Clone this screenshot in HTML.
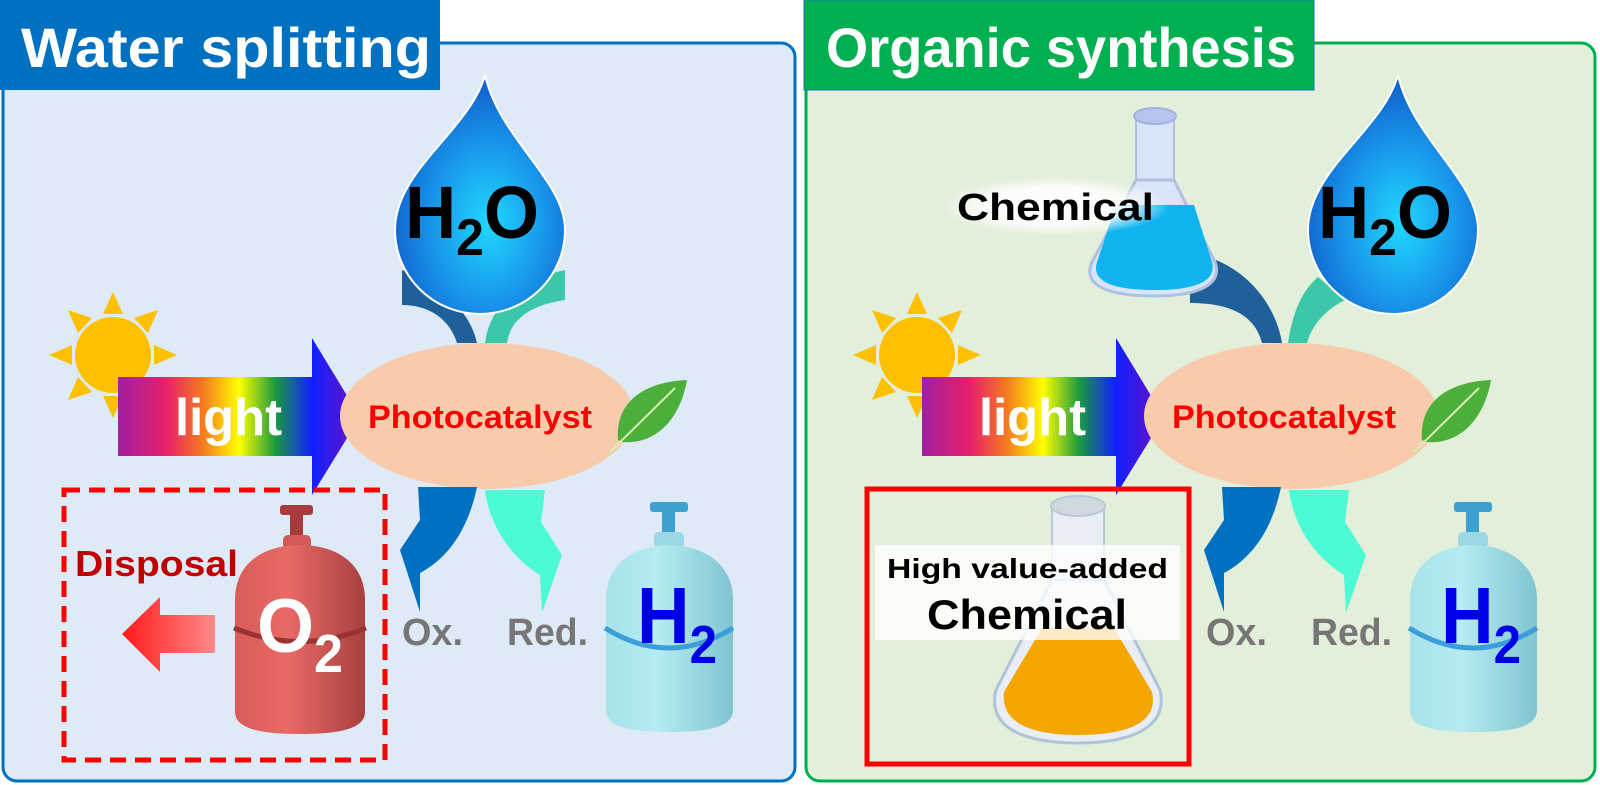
<!DOCTYPE html>
<html><head><meta charset="utf-8"><style>html,body{margin:0;padding:0;background:#fff}svg{display:block}</style></head>
<body>
<svg width="1600" height="785" viewBox="0 0 1600 785" xmlns="http://www.w3.org/2000/svg" font-family="Liberation Sans, sans-serif" font-weight="bold">
<defs>
<linearGradient id="rb" x1="0" x2="1" y1="0" y2="0">
<stop offset="0" stop-color="#a020a0"/><stop offset="0.2" stop-color="#e8206a"/><stop offset="0.35" stop-color="#f57a20"/><stop offset="0.5" stop-color="#ffff00"/><stop offset="0.65" stop-color="#1a9a40"/><stop offset="0.8" stop-color="#1020ff"/><stop offset="1" stop-color="#7010c0"/>
</linearGradient>
<radialGradient id="dr" cx="0.55" cy="0.62" r="0.6"><stop offset="0" stop-color="#20d8ff"/><stop offset="0.6" stop-color="#1890e8"/><stop offset="1" stop-color="#1060c8"/></radialGradient>
<linearGradient id="rc" x1="0" x2="1"><stop offset="0" stop-color="#d85c5a"/><stop offset="0.4" stop-color="#e86a66"/><stop offset="1" stop-color="#a84040"/></linearGradient>
<linearGradient id="bc" x1="0" x2="1"><stop offset="0" stop-color="#a8e2ea"/><stop offset="0.4" stop-color="#b6ecf2"/><stop offset="1" stop-color="#80c4d0"/></linearGradient>
<linearGradient id="la" x1="0" x2="1"><stop offset="0" stop-color="#ff1a1a"/><stop offset="1" stop-color="#ff8a8a"/></linearGradient>
<radialGradient id="glow" cx="0.5" cy="0.5" r="0.5"><stop offset="0.6" stop-color="#fff" stop-opacity="0.9"/><stop offset="1" stop-color="#fff" stop-opacity="0"/></radialGradient>
<g id="drop">
  <path d="M485,75 C470,130 395,170 395,230 A85 84 0 0 0 565,230 C565,180 500,140 485,75 Z" fill="url(#dr)" stroke="#fff" stroke-width="2"/>
  <text x="405" y="238" font-size="74" fill="#000" textLength="134" lengthAdjust="spacingAndGlyphs">H<tspan font-size="52" dy="17">2</tspan><tspan dy="-17">O</tspan></text>
</g>
<g id="common">
  <g fill="#ffc000">
    <polygon points="113,292 103,314 123,314"/>
    <polygon points="49,355 72,345 72,365"/>
    <polygon points="177,355 154,345 154,365"/>
    <polygon points="68,310 92,318 78,333"/>
    <polygon points="158,310 134,318 148,333"/>
    <polygon points="68,400 92,392 78,377"/>
    <polygon points="158,400 134,392 148,377"/>
    <polygon points="113,418 103,396 123,396"/>
    <circle cx="113" cy="355" r="38"/>
  </g>
  <path d="M118,377 L312,377 L312,338 L360,417 L312,495 L312,456 L118,456 Z" fill="url(#rb)"/>
  <text x="175" y="435" font-size="52" fill="#fff" textLength="107" lengthAdjust="spacingAndGlyphs">light</text>
  <ellipse cx="487" cy="416" rx="147" ry="73" fill="#f8cbad"/>
  <text x="368" y="428" font-size="32" fill="#ff0000" textLength="224" lengthAdjust="spacingAndGlyphs">Photocatalyst</text>
  <path d="M618,440 C615,405 640,382 687,380 C680,420 655,445 622,442 Z" fill="#4caf3a"/>
  <path d="M610,452 L675,388" stroke="#d8f0b0" stroke-width="2"/>
  <path d="M418,487 L477,487 C468,530 448,558 420,573 L420,612 L400,550 L420,520 Z" fill="#0070c0"/>
  <path d="M485,490 L545,490 L541,522 L562,555 L542,613 L540,575 C515,560 490,530 485,490 Z" fill="#4dfad6"/>
  <text x="402" y="645" font-size="38" fill="#767676" textLength="61" lengthAdjust="spacingAndGlyphs">Ox.</text>
  <text x="507" y="645" font-size="38" fill="#767676" textLength="81" lengthAdjust="spacingAndGlyphs">Red.</text>
  <rect x="650" y="502" width="38" height="10" rx="3" fill="#3ca0d0"/>
  <rect x="662" y="510" width="13" height="24" fill="#3ca0d0"/>
  <rect x="654" y="532" width="30" height="16" rx="5" fill="#9cd8e4"/>
  <path d="M606,600 C606,560 640,545 669,545 C698,545 733,560 733,600 L733,710 C733,728 705,732 669,732 C633,732 606,728 606,710 Z" fill="url(#bc)"/>
  <path d="M605,628 Q669,668 733,628" stroke="#3c9ed8" stroke-width="5" fill="none"/>
  <text x="637" y="643" font-size="80" fill="#0000e8" textLength="80" lengthAdjust="spacingAndGlyphs">H<tspan font-size="54" dy="20">2</tspan></text>
</g>
</defs>

<rect x="3" y="43" width="792" height="738" rx="14" fill="#deebf7" stroke="#0070c0" stroke-width="3"/>
<rect x="0" y="0" width="440" height="90" fill="#0070c0"/>
<text x="21" y="67" font-size="56" fill="#fff" textLength="410" lengthAdjust="spacingAndGlyphs">Water splitting</text>
<path d="M402,270 C440,285 470,310 477,343 L457,343 C450,320 430,305 402,305 Z" fill="#1f5f9a"/>
<path d="M565,270 L565,300 C530,305 510,320 507,343 L485,343 C490,305 520,280 565,270 Z" fill="#3cc8a8"/>
<use href="#drop"/>
<use href="#common"/>
<rect x="64" y="490" width="321" height="270" fill="none" stroke="#ff0000" stroke-width="5" stroke-dasharray="16,9"/>
<text x="75" y="576" font-size="36" fill="#c00000" textLength="163" lengthAdjust="spacingAndGlyphs">Disposal</text>
<polygon points="122,634 160,597 160,615 215,615 215,653 160,653 160,672" fill="url(#la)"/>
<rect x="280" y="505" width="33" height="10" rx="3" fill="#a83c3c"/>
<rect x="290" y="513" width="13" height="24" fill="#a83c3c"/>
<rect x="283" y="535" width="28" height="15" rx="5" fill="#d45a58"/>
<path d="M235,600 C235,562 265,545 300,545 C335,545 365,562 365,600 L365,712 C365,730 335,734 300,734 C265,734 235,730 235,712 Z" fill="url(#rc)"/>
<path d="M234,628 Q300,655 366,628" stroke="#9a3232" stroke-width="5" fill="none"/>
<text x="257" y="652" font-size="76" fill="#fff" textLength="86" lengthAdjust="spacingAndGlyphs">O<tspan font-size="54" dy="20">2</tspan></text>

<rect x="806" y="43" width="789" height="738" rx="14" fill="#e2efda" stroke="#00b050" stroke-width="3"/>
<rect x="804" y="0" width="510" height="90" fill="#00b050" stroke="#2070c0" stroke-width="1"/>
<text x="826" y="67" font-size="56" fill="#fff" textLength="470" lengthAdjust="spacingAndGlyphs">Organic synthesis</text>
<path d="M1190,253 C1240,260 1275,300 1282,343 L1262,343 C1255,315 1230,303 1190,303 Z" fill="#1f5f9a"/>
<path d="M1318,277 L1345,300 C1325,310 1312,325 1307,343 L1288,343 C1293,310 1303,290 1318,277 Z" fill="#3cc8a8"/>
<use href="#drop" x="913"/>
<use href="#common" x="804"/>
<rect x="1136" y="115" width="38" height="70" fill="#d8e4f8" stroke="#b0c0e0" stroke-width="2"/>
<ellipse cx="1155" cy="116" rx="21" ry="8" fill="#b8c4f0" stroke="#a0b0e0" stroke-width="2"/>
<path d="M1136,180 L1174,180 L1215,262 C1225,290 1185,296 1155,296 C1120,296 1080,290 1092,262 Z" fill="#d8e4f8" stroke="#b0c0e0" stroke-width="3"/>
<path d="M1116,205 L1194,205 L1212,262 C1218,285 1185,290 1155,290 C1122,290 1090,285 1097,262 Z" fill="#10b4f0"/>
<ellipse cx="1055" cy="206" rx="115" ry="30" fill="url(#glow)"/>
<text x="957" y="220" font-size="38" fill="#000" textLength="197" lengthAdjust="spacingAndGlyphs">Chemical</text>
<rect x="867" y="489" width="322" height="275" fill="none" stroke="#ff0000" stroke-width="5"/>
<rect x="1052" y="505" width="52" height="80" fill="#e8eef4" stroke="#b8c8d8" stroke-width="2"/>
<ellipse cx="1078" cy="506" rx="27" ry="10" fill="#d0d8e0" stroke="#b8c8d8" stroke-width="2"/>
<path d="M1052,580 L1104,580 L1160,690 C1170,735 1115,743 1078,743 C1040,743 985,735 996,690 Z" fill="#e8eef4" stroke="#b0c4d8" stroke-width="3"/>
<path d="M1042,628 L1114,628 L1152,692 C1160,728 1115,735 1078,735 C1042,735 1000,728 1004,692 Z" fill="#f5a500"/>
<rect x="875" y="545" width="305" height="95" fill="#fff" opacity="0.78"/>
<text x="887" y="578" font-size="28" fill="#000" textLength="281" lengthAdjust="spacingAndGlyphs">High value-added</text>
<text x="927" y="629" font-size="42" fill="#000" textLength="200" lengthAdjust="spacingAndGlyphs">Chemical</text>
</svg>
</body></html>
